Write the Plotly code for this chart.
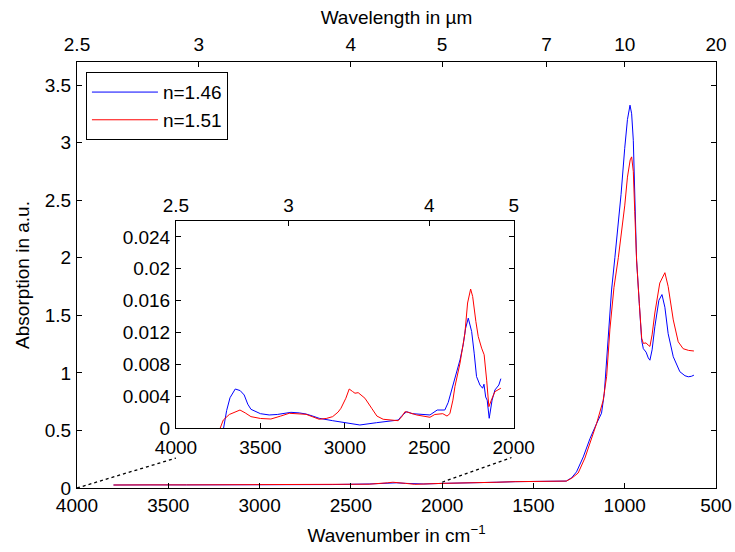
import plotly.graph_objects as go

# ---------------- data ----------------
# main spectrum, n=1.46 (blue)
wn_blue = [3800, 3700, 3600, 3400, 3200, 3000, 2800, 2600, 2400, 2300, 2250, 2200, 2100, 2000,
           1900, 1800, 1700, 1600, 1500, 1400, 1320, 1290, 1264, 1227, 1190, 1154, 1127, 1112,
           1099, 1086, 1072, 1054, 1020, 1000, 985, 971, 962, 953, 945, 935, 920, 907, 898,
           883, 871, 862, 850, 835, 813, 796, 780, 762, 734, 698, 670, 652, 635, 621]
abs_blue = [0.026, 0.028, 0.027, 0.027, 0.027, 0.026, 0.027, 0.030, 0.035, 0.040, 0.045, 0.040,
            0.035, 0.040, 0.042, 0.045, 0.050, 0.055, 0.055, 0.055, 0.060, 0.090, 0.14, 0.27,
            0.43, 0.56, 0.65, 0.82, 1.10, 1.42, 1.72, 2.00, 2.55, 2.95, 3.20, 3.325, 3.25,
            3.02, 2.60, 1.98, 1.60, 1.28, 1.21, 1.18, 1.13, 1.11, 1.20, 1.40, 1.63, 1.68, 1.57,
            1.34, 1.14, 1.01, 0.975, 0.966, 0.970, 0.980]

# main spectrum, n=1.51 (red)
wn_red = [3800, 3700, 3600, 3400, 3200, 3000, 2800, 2600, 2400, 2300, 2270, 2200, 2150, 2000,
          1900, 1800, 1700, 1600, 1500, 1400, 1320, 1290, 1255, 1218, 1181, 1154, 1118, 1099,
          1081, 1059, 1035, 1010, 1000, 985, 970, 962, 953, 945, 935, 920, 907, 898, 883,
          871, 862, 850, 835, 808, 780, 762, 734, 707, 680, 650, 621]
abs_red = [0.026, 0.028, 0.027, 0.027, 0.028, 0.030, 0.028, 0.030, 0.033, 0.045, 0.050, 0.040,
           0.032, 0.040, 0.042, 0.045, 0.050, 0.055, 0.055, 0.055, 0.060, 0.085, 0.13, 0.26,
           0.43, 0.56, 0.76, 0.97, 1.38, 1.74, 2.00, 2.30, 2.45, 2.70, 2.85, 2.876, 2.75,
           2.40, 1.98, 1.60, 1.30, 1.256, 1.26, 1.24, 1.23, 1.33, 1.52, 1.78, 1.87, 1.75,
           1.46, 1.27, 1.21, 1.195, 1.19]

# inset (zoom 4000-2000 cm^-1)
wn_in_blue = [3718, 3700, 3680, 3649, 3620, 3596, 3575, 3556, 3500, 3448, 3400, 3319, 3270, 3230,
              3190, 3152, 3072, 2989, 2911, 2812, 2684, 2660, 2634, 2600, 2575, 2496, 2453, 2408,
              2388, 2368, 2348, 2318, 2299, 2285, 2269, 2249, 2234, 2220, 2200, 2184, 2176, 2166,
              2157, 2145, 2128, 2111, 2088, 2076]
abs_in_blue = [0.0, 0.0022, 0.0038, 0.0049, 0.0047, 0.00415, 0.0030, 0.00235, 0.0018, 0.00164,
               0.0017, 0.00197, 0.0019, 0.00176, 0.0015, 0.00122, 0.00092, 0.00067, 0.00038,
               0.00067, 0.0010, 0.0016, 0.00205, 0.0018, 0.00176, 0.00164, 0.00226, 0.00226,
               0.0032, 0.00478, 0.00646, 0.00856, 0.01045, 0.0125, 0.0138, 0.01212, 0.0094,
               0.00646, 0.0054, 0.0050, 0.0055, 0.0039, 0.0035, 0.00122, 0.0035, 0.00478,
               0.0054, 0.0062]

wn_in_red = [3738, 3720, 3684, 3650, 3621, 3590, 3556, 3500, 3438, 3380, 3329, 3230, 3190, 3152,
             3110, 3072, 3040, 3023, 2994, 2974, 2955, 2940, 2921, 2900, 2881, 2841, 2810, 2773,
             2684, 2660, 2644, 2625, 2575, 2496, 2467, 2420, 2395, 2378, 2360, 2348, 2329, 2318,
             2289, 2273, 2255, 2243, 2224, 2210, 2190, 2175, 2160, 2147, 2128, 2111, 2076]
abs_in_red = [0.0, 0.0010, 0.0017, 0.0020, 0.00226, 0.0019, 0.00143, 0.0012, 0.00113, 0.0015,
              0.00185, 0.00172, 0.0014, 0.0011, 0.0012, 0.00143, 0.0020, 0.00248, 0.00374,
              0.0049, 0.0046, 0.00437, 0.00444, 0.0041, 0.00374, 0.00248, 0.0015, 0.0011,
              0.00092, 0.0015, 0.00205, 0.00197, 0.00164, 0.00135, 0.0017, 0.0018, 0.0015,
              0.0018, 0.0035, 0.0052, 0.0069, 0.00814, 0.0119, 0.0157, 0.01745, 0.01652,
              0.01338, 0.0115, 0.01003, 0.0092, 0.0060, 0.00268, 0.00374, 0.00457, 0.0050]

# tick labels
main_xticks = [4000, 3500, 3000, 2500, 2000, 1500, 1000, 500]
main_yticks = [0, 0.5, 1, 1.5, 2, 2.5, 3, 3.5]
wavelength_ticks = [2.5, 3, 4, 5, 7, 10, 20]
inset_xticks = [4000, 3500, 3000, 2500, 2000]
inset_yticks = [0, 0.004, 0.008, 0.012, 0.016, 0.02, 0.024]
inset_wavelength_ticks = [2.5, 3, 4, 5]

# zoom connector lines (main data coords): start -> end
connectors = [((4000, 0.0), (3458, 0.26)), ((2000, 0.05), (1620, 0.265))]

BLUE = "#0000ff"
RED = "#ff0000"
FONT = "Liberation Sans, Arial, sans-serif"
FS = 19

fig = go.Figure()
fig.add_trace(go.Scatter(x=wn_blue, y=abs_blue, mode="lines", name="n=1.46",
                         line=dict(color=BLUE, width=1), xaxis="x", yaxis="y"))
fig.add_trace(go.Scatter(x=wn_red, y=abs_red, mode="lines", name="n=1.51",
                         line=dict(color=RED, width=1), xaxis="x", yaxis="y"))
fig.add_trace(go.Scatter(x=wn_in_blue, y=abs_in_blue, mode="lines", showlegend=False,
                         line=dict(color=BLUE, width=1), xaxis="x3", yaxis="y3"))
fig.add_trace(go.Scatter(x=wn_in_red, y=abs_in_red, mode="lines", showlegend=False,
                         line=dict(color=RED, width=1), xaxis="x3", yaxis="y3"))
# invisible traces so the top (wavelength) axes are drawn
fig.add_trace(go.Scatter(x=[4000, 500], y=[None, None], mode="lines", showlegend=False,
                         hoverinfo="skip", xaxis="x2", yaxis="y"))
fig.add_trace(go.Scatter(x=[4000, 2000], y=[None, None], mode="lines", showlegend=False,
                         hoverinfo="skip", xaxis="x4", yaxis="y3"))

for (x0, y0), (x1, y1) in connectors:
    fig.add_shape(type="line", x0=x0, y0=y0, x1=x1, y1=y1, xref="x", yref="y",
                  line=dict(color="black", width=1.3, dash="dot"))

axis_common = dict(showgrid=False, zeroline=False, showline=True, linecolor="black",
                   linewidth=1, ticks="inside", ticklen=5, tickcolor="black",
                   automargin=False,
                   tickfont=dict(family=FONT, size=FS, color="black"))

inset_x = [0.1549, 0.6834]
inset_y = [0.1408, 0.6268]

fig.update_layout(
    width=735, height=552,
    margin=dict(l=77, r=19, t=62, b=64),
    paper_bgcolor="white", plot_bgcolor="white",
    font=dict(family=FONT, size=FS, color="black"),
    showlegend=True,
    legend=dict(x=0.014, y=0.976, xanchor="left", yanchor="top",
                bordercolor="black", borderwidth=1, bgcolor="white",
                itemwidth=66,
                font=dict(family=FONT, size=FS, color="black"),
                tracegroupgap=0),
    xaxis=dict(axis_common, domain=[0, 1], range=[4000, 500], anchor="y", mirror=True,
               tickvals=main_xticks, ticktext=[str(v) for v in main_xticks],
               ticklabelstandoff=0,
               title=dict(text="Wavenumber in cm<sup>−1</sup>", standoff=13,
                          font=dict(family=FONT, size=FS))),
    yaxis=dict(axis_common, domain=[0, 1], range=[0, 3.7], anchor="x", mirror="ticks",
               tickvals=main_yticks, ticklabelstandoff=1,
               title=dict(text="Absorption in a.u.", standoff=10,
                          font=dict(family=FONT, size=FS))),
    xaxis2=dict(axis_common, overlaying="x", side="top", anchor="y", range=[4000, 500],
                showline=False, ticklabelstandoff=6,
                tickvals=[10000.0 / w for w in wavelength_ticks],
                ticktext=[f"{w:g}" for w in wavelength_ticks],
                title=dict(text="Wavelength in µm", standoff=4,
                           font=dict(family=FONT, size=FS))),
    xaxis3=dict(axis_common, domain=inset_x, range=[4000, 2000], anchor="y3", mirror=True,
                ticklabelstandoff=2,
                tickvals=inset_xticks, ticktext=[str(v) for v in inset_xticks]),
    yaxis3=dict(axis_common, domain=inset_y, range=[0, 0.026], anchor="x3", mirror="ticks",
                ticklabelstandoff=1,
                tickvals=inset_yticks, ticktext=[f"{v:g}" for v in inset_yticks]),
    xaxis4=dict(axis_common, overlaying="x3", side="top", anchor="y3", range=[4000, 2000],
                showline=False, ticklabelstandoff=4,
                tickvals=[10000.0 / w for w in inset_wavelength_ticks],
                ticktext=[f"{w:g}" for w in inset_wavelength_ticks]),
)

fig.write_html("out.html", config={"displayModeBar": False},
               post_script="document.body.style.margin='0px';")
